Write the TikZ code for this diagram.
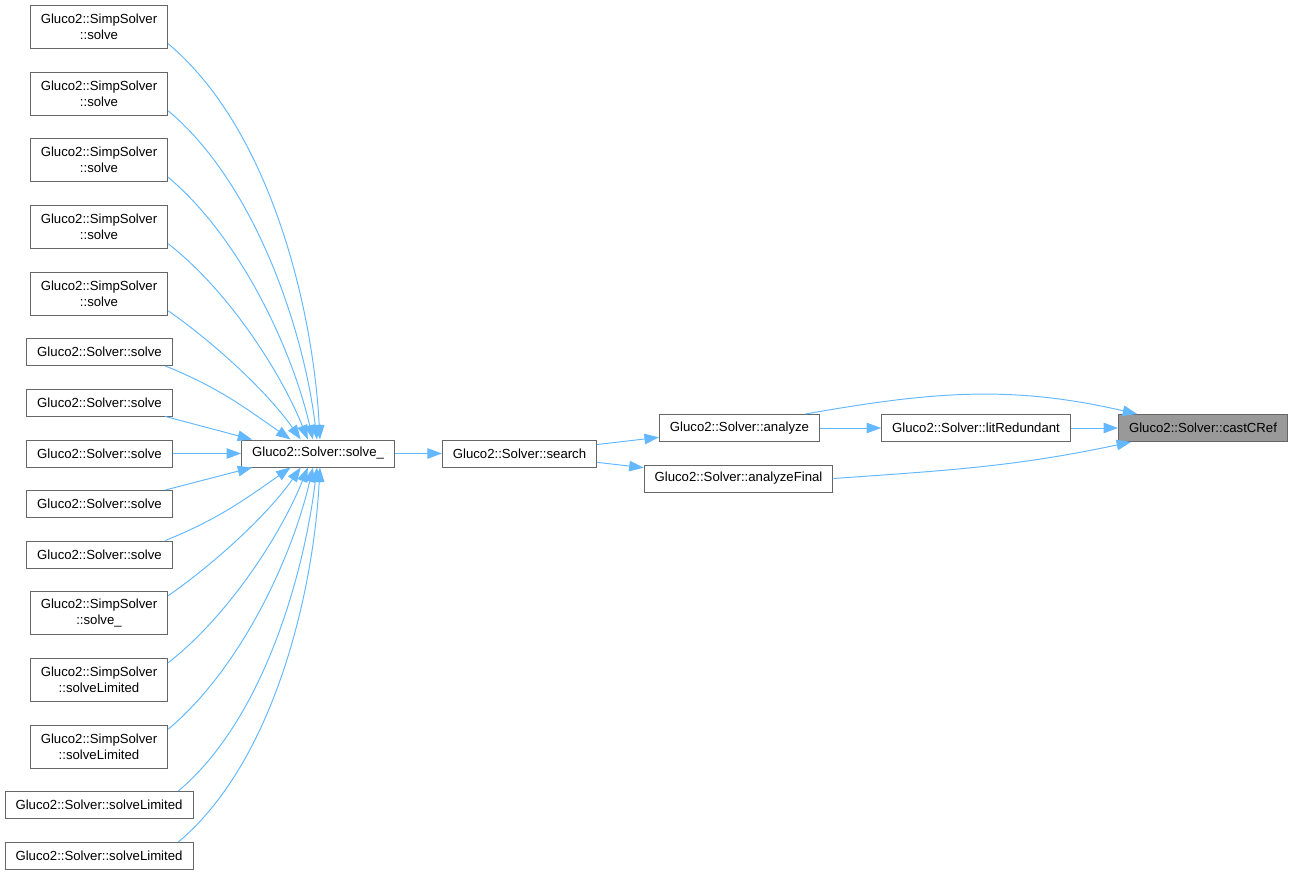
\documentclass[tikz,border=0pt]{standalone}
\usepackage{fontspec}
\setmainfont{Liberation Sans}
\usepackage{xcolor}
\definecolor{edge100}{HTML}{63B8FF}
\definecolor{gray600}{HTML}{666666}
\definecolor{gray400}{HTML}{999999}
\usepackage{tikz}
\usetikzlibrary{arrows.meta}

\begin{document}
\begin{tikzpicture}[
    x=0.02cm, y=0.02cm,
    font=\fontsize{7.5}{9}\selectfont,
    >={Triangle[length=0.29cm, width=0.21cm]},
    fn/.style={draw=gray600, line width=0.55pt, fill=white, inner xsep=0.21cm, inner ysep=0pt, minimum height=0.54cm},
    fntwo/.style={fn, align=center, minimum height=0.86cm},
    focus/.style={fn, fill=gray400},
    call/.style={->, draw=edge100, line width=0.55pt},
]
\useasboundingbox (0,0) rectangle (1295,-875);

% ── Callers: SimpSolver::solve ──
\node[fntwo] (ss1) at (99,-26.5) {Gluco2::SimpSolver\\::solve};
\node[fntwo] (ss2) at (99,-93.5) {Gluco2::SimpSolver\\::solve};
\node[fntwo] (ss3) at (99,-160) {Gluco2::SimpSolver\\::solve};
\node[fntwo] (ss4) at (99,-226.5) {Gluco2::SimpSolver\\::solve};
\node[fntwo] (ss5) at (99,-293.5) {Gluco2::SimpSolver\\::solve};

% ── Callers: Solver::solve ──
\node[fn] (sv1) at (99.5,-352) {Gluco2::Solver::solve};
\node[fn] (sv2) at (99.5,-402.5) {Gluco2::Solver::solve};
\node[fn] (sv3) at (99.5,-453.5) {Gluco2::Solver::solve};
\node[fn] (sv4) at (99.5,-504) {Gluco2::Solver::solve};
\node[fn] (sv5) at (99.5,-554.5) {Gluco2::Solver::solve};

% ── Callers: solve_ / solveLimited ──
\node[fntwo] (ssu) at (99,-613) {Gluco2::SimpSolver\\::solve\_};
\node[fntwo] (sslim1) at (99,-680) {Gluco2::SimpSolver\\::solveLimited};
\node[fntwo] (sslim2) at (99,-746.5) {Gluco2::SimpSolver\\::solveLimited};
\node[fn] (svlim1) at (99,-805) {Gluco2::Solver::solveLimited};
\node[fn] (svlim2) at (99,-856) {Gluco2::Solver::solveLimited};

% ── Main chain ──
\node[fn] (solveu) at (318,-453.5) {Gluco2::Solver::solve\_};
\node[fn] (search) at (519.5,-453.5) {Gluco2::Solver::search};
\node[fn] (analyze) at (739.5,-428) {Gluco2::Solver::analyze};
\node[fn] (anfinal) at (738.5,-478.5) {Gluco2::Solver::analyzeFinal};
\node[fn] (litred) at (976,-428) {Gluco2::Solver::litRedundant};
\node[focus] (castcref) at (1203,-428) {Gluco2::Solver::castCRef};

% ── Fan-in to solve_ ──
\draw[call] (ss1.-14) to[out=-40, in=93, looseness=0.8] (solveu.82);
\draw[call] (ss2.-14) to[out=-40, in=97, looseness=0.8] (solveu.94);
\draw[call] (ss3.-14) to[out=-40, in=103, looseness=0.8] (solveu.110);
\draw[call] (ss4.-14) to[out=-38, in=112, looseness=0.8] (solveu.126);
\draw[call] (ss5.-14) to[out=-35, in=125, looseness=0.8] (solveu.141);
\draw[call] (sv1.-12) to[out=-22, in=145] (solveu.153);
\draw[call] (sv2.-12) -- (solveu.168);
\draw[call] (sv3) -- (solveu);
\draw[call] (sv4.12) -- (solveu.-168);
\draw[call] (sv5.12) to[out=22, in=-145] (solveu.-153);
\draw[call] (ssu.14) to[out=35, in=-125, looseness=0.8] (solveu.-141);
\draw[call] (sslim1.14) to[out=38, in=-112, looseness=0.8] (solveu.-126);
\draw[call] (sslim2.14) to[out=40, in=-103, looseness=0.8] (solveu.-110);
\draw[call] (svlim1.10) to[out=40, in=-97, looseness=0.8] (solveu.-94);
\draw[call] (svlim2.10) to[out=40, in=-93, looseness=0.8] (solveu.-82);

% ── Chain to castCRef ──
\draw[call] (solveu) -- (search);
\draw[call] (search) -- (analyze);
\draw[call] (search) -- (anfinal);
\draw[call] (analyze) -- (litred);
\draw[call] (litred) -- (castcref);
\draw[call] (analyze.12) to[out=10, in=167] (castcref.168);
\draw[call] (anfinal.east) to[out=4, in=-168] (castcref.191);
\end{tikzpicture}
\end{document}
